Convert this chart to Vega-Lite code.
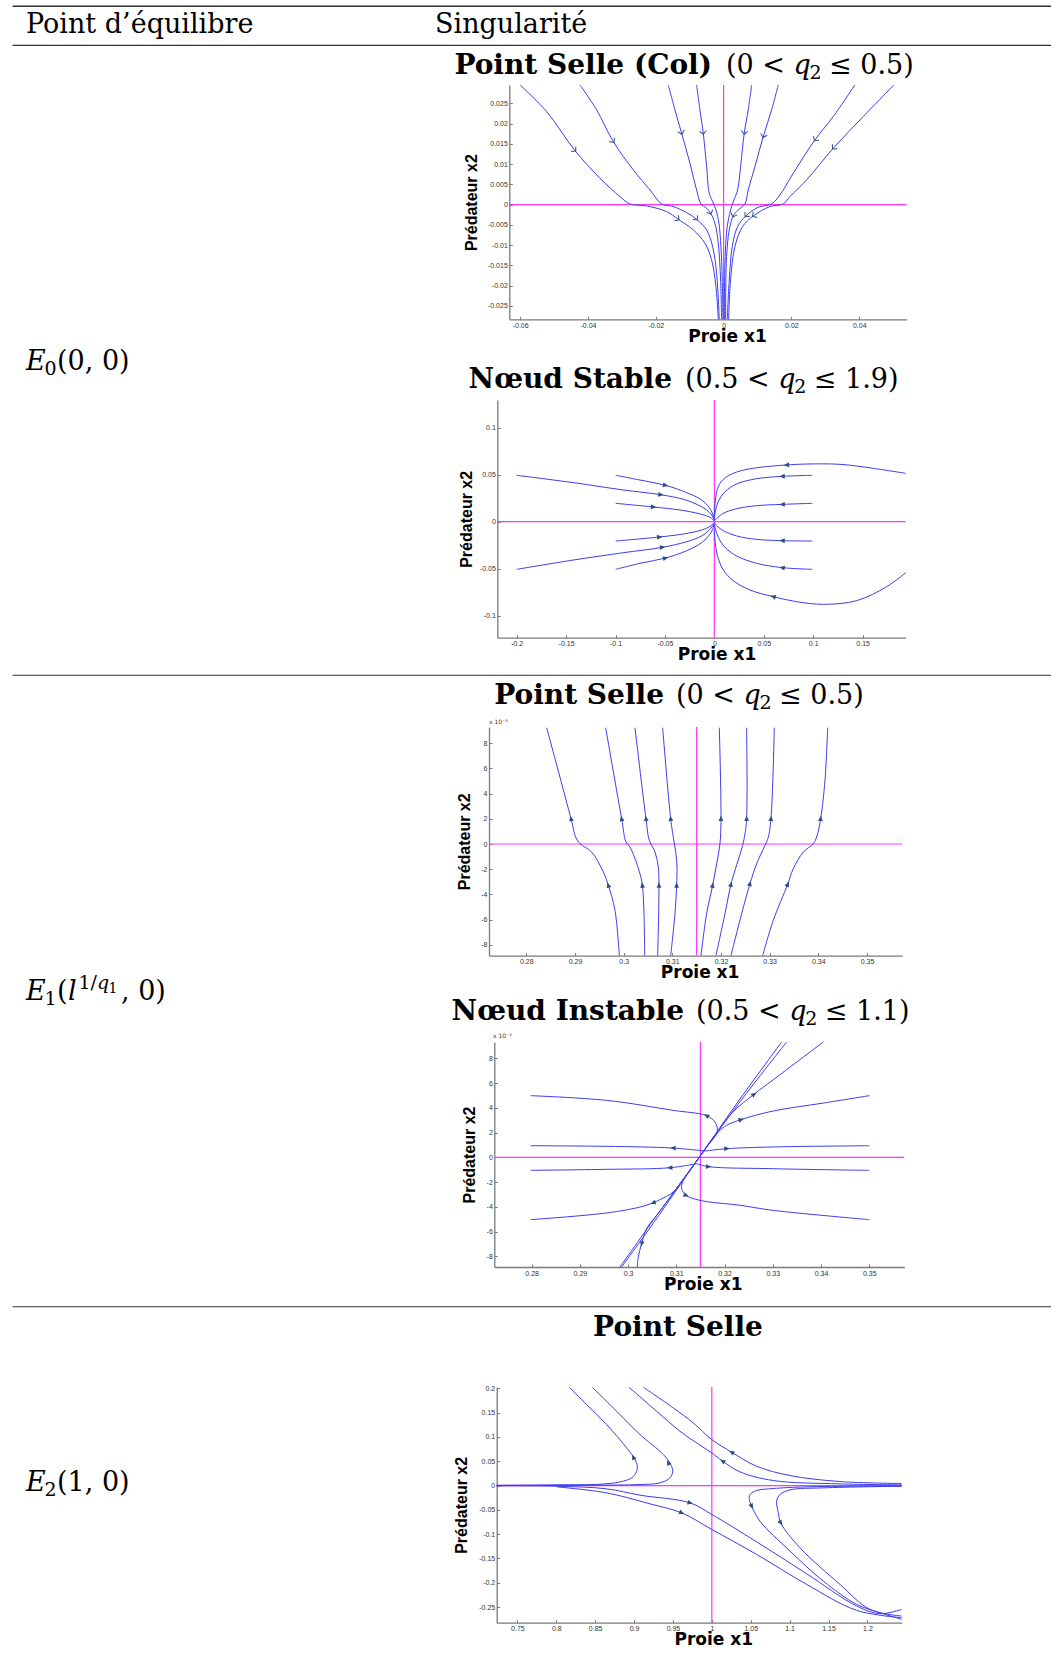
{
"$schema": "https://vega.github.io/schema/vega-lite/v6.json",
"padding": 0,
"background": "white",
"spacing": 0,
"bounds": "flush",
"config": {
  "view": {"stroke": null},
  "axis": {"grid": false, "domainColor": "#7a7a7a", "domainWidth": 1.3, "tickColor": "#7a7a7a", "tickSize": -3, "tickWidth": 1, "labelFont": "Liberation Sans", "labelFontSize": 7, "labelColor": "#333333", "labelPadding": 5, "labelFlush": false, "labelOverlap": false, "titleColor": "#000000", "titleFontWeight": "bold"},
  "axisX": {"titleFont": "DejaVu Sans", "titleFontSize": 17, "titlePadding": 0},
  "axisY": {"titleFont": "Liberation Sans", "titleFontSize": 16}
},
"datasets": {
  "p1l": [
    {"c":"A","i":0,"x":-0.06005,"y":0.02952},{"c":"A","i":1,"x":-0.05219,"y":0.02294},{"c":"A","i":2,"x":-0.04383,"y":0.01332},{"c":"A","i":3,"x":-0.03646,"y":0.0065},{"c":"A","i":4,"x":-0.03057,"y":0.00197},{"c":"A","i":5,"x":-0.02762,"y":0.00016},{"c":"A","i":6,"x":-0.0227,"y":-0.00033},{"c":"A","i":7,"x":-0.01681,"y":-0.00173},{"c":"A","i":8,"x":-0.01337,"y":-0.00362},{"c":"A","i":9,"x":-0.00894,"y":-0.00625},{"c":"A","i":10,"x":-0.0055,"y":-0.00954},{"c":"A","i":11,"x":-0.00354,"y":-0.01365},{"c":"A","i":12,"x":-0.00226,"y":-0.02023},{"c":"A","i":13,"x":-0.00157,"y":-0.02829},
    {"c":"B","i":0,"x":-0.04236,"y":0.02952},{"c":"B","i":1,"x":-0.03744,"y":0.02336},{"c":"B","i":2,"x":-0.03253,"y":0.01554},{"c":"B","i":3,"x":-0.02663,"y":0.00855},{"c":"B","i":4,"x":-0.02172,"y":0.00362},{"c":"B","i":5,"x":-0.01828,"y":0.00016},{"c":"B","i":6,"x":-0.01484,"y":-0.00049},{"c":"B","i":7,"x":-0.01091,"y":-0.00197},{"c":"B","i":8,"x":-0.00796,"y":-0.00362},{"c":"B","i":9,"x":-0.00501,"y":-0.00625},{"c":"B","i":10,"x":-0.00324,"y":-0.01036},{"c":"B","i":11,"x":-0.00206,"y":-0.01694},{"c":"B","i":12,"x":-0.00128,"y":-0.02829},
    {"c":"C","i":0,"x":-0.01631,"y":0.02952},{"c":"C","i":1,"x":-0.01435,"y":0.02336},{"c":"C","i":2,"x":-0.01238,"y":0.0176},{"c":"C","i":3,"x":-0.00993,"y":0.0102},{"c":"C","i":4,"x":-0.00796,"y":0.00362},{"c":"C","i":5,"x":-0.00668,"y":0.00016},{"c":"C","i":6,"x":-0.00501,"y":-0.0009},{"c":"C","i":7,"x":-0.00383,"y":-0.00214},{"c":"C","i":8,"x":-0.00256,"y":-0.00461},{"c":"C","i":9,"x":-0.00157,"y":-0.00954},{"c":"C","i":10,"x":-0.00088,"y":-0.01859},{"c":"C","i":11,"x":-0.00059,"y":-0.02829},
    {"c":"D","i":0,"x":-0.00796,"y":0.02952},{"c":"D","i":1,"x":-0.00698,"y":0.02336},{"c":"D","i":2,"x":-0.006,"y":0.0176},{"c":"D","i":3,"x":-0.00501,"y":0.00938},{"c":"D","i":4,"x":-0.00423,"y":0.0028},{"c":"D","i":5,"x":-0.00324,"y":0.00074},{"c":"D","i":6,"x":-0.00226,"y":-0.00132},{"c":"D","i":7,"x":-0.00138,"y":-0.00461},{"c":"D","i":8,"x":-0.00079,"y":-0.01036},{"c":"D","i":9,"x":-0.00039,"y":-0.01859},{"c":"D","i":10,"x":-0.0002,"y":-0.02829},
    {"c":"E","i":0,"x":0.00826,"y":0.02952},{"c":"E","i":1,"x":0.00727,"y":0.02336},{"c":"E","i":2,"x":0.00609,"y":0.0176},{"c":"E","i":3,"x":0.00501,"y":0.00938},{"c":"E","i":4,"x":0.00413,"y":0.00362},{"c":"E","i":5,"x":0.00305,"y":0.00115},{"c":"E","i":6,"x":0.00206,"y":-0.00132},{"c":"E","i":7,"x":0.00108,"y":-0.00543},{"c":"E","i":8,"x":0.00049,"y":-0.01201},{"c":"E","i":9,"x":0.0002,"y":-0.02829},
    {"c":"F","i":0,"x":0.01612,"y":0.02952},{"c":"F","i":1,"x":0.01415,"y":0.02336},{"c":"F","i":2,"x":0.0117,"y":0.01678},{"c":"F","i":3,"x":0.00924,"y":0.00938},{"c":"F","i":4,"x":0.00727,"y":0.00362},{"c":"F","i":5,"x":0.00629,"y":0.00016},{"c":"F","i":6,"x":0.00432,"y":-0.00132},{"c":"F","i":7,"x":0.00285,"y":-0.0028},{"c":"F","i":8,"x":0.00167,"y":-0.00625},{"c":"F","i":9,"x":0.00088,"y":-0.01283},{"c":"F","i":10,"x":0.00059,"y":-0.02829},
    {"c":"G","i":0,"x":0.03872,"y":0.02952},{"c":"G","i":1,"x":0.03233,"y":0.02171},{"c":"G","i":2,"x":0.02693,"y":0.01595},{"c":"G","i":3,"x":0.02054,"y":0.00773},{"c":"G","i":4,"x":0.01661,"y":0.00238},{"c":"G","i":5,"x":0.01415,"y":0.00016},{"c":"G","i":6,"x":0.01022,"y":-0.00066},{"c":"G","i":7,"x":0.00658,"y":-0.0028},{"c":"G","i":8,"x":0.00413,"y":-0.00543},{"c":"G","i":9,"x":0.00256,"y":-0.01036},{"c":"G","i":10,"x":0.00167,"y":-0.01859},{"c":"G","i":11,"x":0.00108,"y":-0.02829},
    {"c":"H","i":0,"x":0.05022,"y":0.02952},{"c":"H","i":1,"x":0.04118,"y":0.02171},{"c":"H","i":2,"x":0.03233,"y":0.0139},{"c":"H","i":3,"x":0.02447,"y":0.00609},{"c":"H","i":4,"x":0.01956,"y":0.00197},{"c":"H","i":5,"x":0.01759,"y":0.00016},{"c":"H","i":6,"x":0.01366,"y":-0.00049},{"c":"H","i":7,"x":0.00875,"y":-0.0028},{"c":"H","i":8,"x":0.0056,"y":-0.00543},{"c":"H","i":9,"x":0.00334,"y":-0.01036},{"c":"H","i":10,"x":0.00206,"y":-0.01859},{"c":"H","i":11,"x":0.00147,"y":-0.02829}
  ],
  "p1a": [
    {"x":-0.04383,"y":0.01332,"h":137},{"x":-0.03253,"y":0.01554,"h":146},{"x":-0.01238,"y":0.0176,"h":165},{"x":-0.006,"y":0.0176,"h":173},{"x":0.00609,"y":0.0176,"h":187},{"x":0.0117,"y":0.01678,"h":196},{"x":0.02693,"y":0.01595,"h":215},{"x":0.03233,"y":0.0139,"h":223},
    {"x":-0.01337,"y":-0.00362,"h":125},{"x":-0.00796,"y":-0.00362,"h":140},{"x":-0.00383,"y":-0.00214,"h":155},{"x":0.00285,"y":-0.0028,"h":200},{"x":0.00658,"y":-0.0028,"h":220},{"x":0.00875,"y":-0.0028,"h":235}
  ],
  "p2l": [
    {"c":"L1","i":0,"x":-0.2,"y":0.0493},{"c":"L1","i":1,"x":-0.1427,"y":0.0415},{"c":"L1","i":2,"x":-0.0921,"y":0.0337},{"c":"L1","i":3,"x":-0.0543,"y":0.0287},{"c":"L1","i":4,"x":-0.0314,"y":0.0238},{"c":"L1","i":5,"x":-0.0162,"y":0.0177},{"c":"L1","i":6,"x":-0.0078,"y":0.0124},{"c":"L1","i":7,"x":-0.0027,"y":0.0071},{"c":"L1","i":8,"x":-0.0003,"y":0.0018},
    {"c":"L2","i":0,"x":-0.0998,"y":0.0493},{"c":"L2","i":1,"x":-0.0752,"y":0.0443},{"c":"L2","i":2,"x":-0.0496,"y":0.0387},{"c":"L2","i":3,"x":-0.028,"y":0.0309},{"c":"L2","i":4,"x":-0.0128,"y":0.023},{"c":"L2","i":5,"x":-0.0051,"y":0.0149},{"c":"L2","i":6,"x":-0.0017,"y":0.0082},{"c":"L2","i":7,"x":-0.0003,"y":0.0025},
    {"c":"L3","i":0,"x":-0.0998,"y":0.0195},{"c":"L3","i":1,"x":-0.0617,"y":0.0156},{"c":"L3","i":2,"x":-0.0347,"y":0.0124},{"c":"L3","i":3,"x":-0.0145,"y":0.0082},{"c":"L3","i":4,"x":-0.0044,"y":0.0046},{"c":"L3","i":5,"x":-0.0003,"y":0.0011},
    {"c":"L4","i":0,"x":-0.0998,"y":-0.0206},{"c":"L4","i":1,"x":-0.0556,"y":-0.0163},{"c":"L4","i":2,"x":-0.0314,"y":-0.0131},{"c":"L4","i":3,"x":-0.0128,"y":-0.0089},{"c":"L4","i":4,"x":-0.0037,"y":-0.0046},{"c":"L4","i":5,"x":-0.0003,"y":-0.0011},
    {"c":"L5","i":0,"x":-0.2,"y":-0.0507},{"c":"L5","i":1,"x":-0.1427,"y":-0.0408},{"c":"L5","i":2,"x":-0.0921,"y":-0.033},{"c":"L5","i":3,"x":-0.0526,"y":-0.0273},{"c":"L5","i":4,"x":-0.028,"y":-0.0213},{"c":"L5","i":5,"x":-0.0128,"y":-0.0152},{"c":"L5","i":6,"x":-0.0051,"y":-0.0089},{"c":"L5","i":7,"x":-0.001,"y":-0.0035},
    {"c":"L6","i":0,"x":-0.0998,"y":-0.0507},{"c":"L6","i":1,"x":-0.0752,"y":-0.0443},{"c":"L6","i":2,"x":-0.0496,"y":-0.0387},{"c":"L6","i":3,"x":-0.028,"y":-0.0309},{"c":"L6","i":4,"x":-0.0128,"y":-0.0223},{"c":"L6","i":5,"x":-0.0051,"y":-0.0142},{"c":"L6","i":6,"x":-0.0017,"y":-0.0082},{"c":"L6","i":7,"x":-0.0003,"y":-0.0025},
    {"c":"R1","i":0,"x":0.1936,"y":0.0514},{"c":"R1","i":1,"x":0.1609,"y":0.0567},{"c":"R1","i":2,"x":0.1271,"y":0.061},{"c":"R1","i":3,"x":0.0934,"y":0.0613},{"c":"R1","i":4,"x":0.0732,"y":0.0603},{"c":"R1","i":5,"x":0.0462,"y":0.0578},{"c":"R1","i":6,"x":0.026,"y":0.0539},{"c":"R1","i":7,"x":0.0125,"y":0.0479},{"c":"R1","i":8,"x":0.0057,"y":0.0408},{"c":"R1","i":9,"x":0.0024,"y":0.0319},{"c":"R1","i":10,"x":0.0007,"y":0.0195},{"c":"R1","i":11,"x":0,"y":0.0053},
    {"c":"R2","i":0,"x":0.0992,"y":0.0493},{"c":"R2","i":1,"x":0.0688,"y":0.0482},{"c":"R2","i":2,"x":0.0428,"y":0.0457},{"c":"R2","i":3,"x":0.0226,"y":0.0401},{"c":"R2","i":4,"x":0.0108,"y":0.0319},{"c":"R2","i":5,"x":0.004,"y":0.0213},{"c":"R2","i":6,"x":0.001,"y":0.0106},{"c":"R2","i":7,"x":0,"y":0.0025},
    {"c":"R3","i":0,"x":0.0992,"y":0.0195},{"c":"R3","i":1,"x":0.0688,"y":0.0184},{"c":"R3","i":2,"x":0.0428,"y":0.017},{"c":"R3","i":3,"x":0.0226,"y":0.0138},{"c":"R3","i":4,"x":0.0091,"y":0.0089},{"c":"R3","i":5,"x":0.0024,"y":0.0035},{"c":"R3","i":6,"x":0,"y":0.0007},
    {"c":"R4","i":0,"x":0.0992,"y":-0.0206},{"c":"R4","i":1,"x":0.0688,"y":-0.0202},{"c":"R4","i":2,"x":0.0428,"y":-0.0188},{"c":"R4","i":3,"x":0.0226,"y":-0.0152},{"c":"R4","i":4,"x":0.0091,"y":-0.0096},{"c":"R4","i":5,"x":0.0024,"y":-0.0043},{"c":"R4","i":6,"x":0,"y":-0.0011},
    {"c":"R5","i":0,"x":0.0992,"y":-0.0507},{"c":"R5","i":1,"x":0.0688,"y":-0.0489},{"c":"R5","i":2,"x":0.0428,"y":-0.0443},{"c":"R5","i":3,"x":0.0226,"y":-0.0365},{"c":"R5","i":4,"x":0.0108,"y":-0.0273},{"c":"R5","i":5,"x":0.004,"y":-0.0167},{"c":"R5","i":6,"x":0.001,"y":-0.0071},{"c":"R5","i":7,"x":0,"y":-0.0025},
    {"c":"R6","i":0,"x":0.1936,"y":-0.0543},{"c":"R6","i":1,"x":0.1744,"y":-0.0691},{"c":"R6","i":2,"x":0.144,"y":-0.084},{"c":"R6","i":3,"x":0.1103,"y":-0.0879},{"c":"R6","i":4,"x":0.0833,"y":-0.0851},{"c":"R6","i":5,"x":0.0597,"y":-0.0798},{"c":"R6","i":6,"x":0.0361,"y":-0.0727},{"c":"R6","i":7,"x":0.0192,"y":-0.0628},{"c":"R6","i":8,"x":0.0091,"y":-0.0514},{"c":"R6","i":9,"x":0.0034,"y":-0.0372},{"c":"R6","i":10,"x":0.001,"y":-0.023},{"c":"R6","i":11,"x":0,"y":-0.0089}
  ],
  "p2a": [
    {"x":-0.0543,"y":0.0287,"h":97},{"x":-0.0496,"y":0.0387,"h":101},{"x":-0.0617,"y":0.0156,"h":96},{"x":-0.0556,"y":-0.0163,"h":84},{"x":-0.0526,"y":-0.0273,"h":81},{"x":-0.0496,"y":-0.0387,"h":77},
    {"x":0.0732,"y":0.0603,"h":265},{"x":0.0688,"y":0.0482,"h":268},{"x":0.0688,"y":0.0184,"h":268},{"x":0.0688,"y":-0.0202,"h":272},{"x":0.0688,"y":-0.0489,"h":280},{"x":0.0597,"y":-0.0798,"h":287}
  ],
  "p3l": [
    {"c":"C1","i":0,"x":0.28418,"y":0.009233},{"c":"C1","i":1,"x":0.28918,"y":0.002011},{"c":"C1","i":2,"x":0.29014,"y":0.000556},{"c":"C1","i":3,"x":0.29103,"y":0.000026},{"c":"C1","i":4,"x":0.29342,"y":-0.000635},{"c":"C1","i":5,"x":0.29582,"y":-0.002222},{"c":"C1","i":6,"x":0.29685,"y":-0.00328},{"c":"C1","i":7,"x":0.29822,"y":-0.005265},{"c":"C1","i":8,"x":0.29911,"y":-0.008862},
    {"c":"C2","i":0,"x":0.2963,"y":0.009233},{"c":"C2","i":1,"x":0.29959,"y":0.002011},{"c":"C2","i":2,"x":0.30048,"y":0.000159},{"c":"C2","i":3,"x":0.3013,"y":-0.000238},{"c":"C2","i":4,"x":0.30315,"y":-0.00209},{"c":"C2","i":5,"x":0.30384,"y":-0.00328},{"c":"C2","i":6,"x":0.30418,"y":-0.005529},{"c":"C2","i":7,"x":0.30432,"y":-0.008862},
    {"c":"C3","i":0,"x":0.30233,"y":0.009233},{"c":"C3","i":1,"x":0.30459,"y":0.002011},{"c":"C3","i":2,"x":0.30527,"y":0.000291},{"c":"C3","i":3,"x":0.30644,"y":-0.000635},{"c":"C3","i":4,"x":0.30712,"y":-0.001825},{"c":"C3","i":5,"x":0.30726,"y":-0.00328},{"c":"C3","i":6,"x":0.30699,"y":-0.008862},
    {"c":"C4","i":0,"x":0.30801,"y":0.009233},{"c":"C4","i":1,"x":0.30966,"y":0.002011},{"c":"C4","i":2,"x":0.3102,"y":0.000556},{"c":"C4","i":3,"x":0.31075,"y":-0.000767},{"c":"C4","i":4,"x":0.31096,"y":-0.001825},{"c":"C4","i":5,"x":0.31089,"y":-0.00328},{"c":"C4","i":6,"x":0.31055,"y":-0.005529},{"c":"C4","i":7,"x":0.30966,"y":-0.008862},
    {"c":"C5","i":0,"x":0.31966,"y":0.009233},{"c":"C5","i":1,"x":0.32,"y":0.002011},{"c":"C5","i":2,"x":0.31979,"y":0.000026},{"c":"C5","i":3,"x":0.31911,"y":-0.001561},{"c":"C5","i":4,"x":0.31829,"y":-0.00328},{"c":"C5","i":5,"x":0.31705,"y":-0.005529},{"c":"C5","i":6,"x":0.31589,"y":-0.008862},
    {"c":"C6","i":0,"x":0.32527,"y":0.009233},{"c":"C6","i":1,"x":0.32527,"y":0.002011},{"c":"C6","i":2,"x":0.32493,"y":0.00082},{"c":"C6","i":3,"x":0.32445,"y":-0.000106},{"c":"C6","i":4,"x":0.32288,"y":-0.00209},{"c":"C6","i":5,"x":0.32205,"y":-0.003201},{"c":"C6","i":6,"x":0.32082,"y":-0.005529},{"c":"C6","i":7,"x":0.31897,"y":-0.008862},
    {"c":"C7","i":0,"x":0.33096,"y":0.009233},{"c":"C7","i":1,"x":0.33027,"y":0.002011},{"c":"C7","i":2,"x":0.32973,"y":0.000556},{"c":"C7","i":3,"x":0.32904,"y":-0.000106},{"c":"C7","i":4,"x":0.32733,"y":-0.001561},{"c":"C7","i":5,"x":0.32596,"y":-0.003148},{"c":"C7","i":6,"x":0.32425,"y":-0.005529},{"c":"C7","i":7,"x":0.32205,"y":-0.008862},
    {"c":"C8","i":0,"x":0.34192,"y":0.009233},{"c":"C8","i":1,"x":0.34137,"y":0.005053},{"c":"C8","i":2,"x":0.34048,"y":0.002011},{"c":"C8","i":3,"x":0.33966,"y":0.000556},{"c":"C8","i":4,"x":0.33897,"y":0.000026},{"c":"C8","i":5,"x":0.33692,"y":-0.000635},{"c":"C8","i":6,"x":0.33486,"y":-0.001958},{"c":"C8","i":7,"x":0.3337,"y":-0.003201},{"c":"C8","i":8,"x":0.33075,"y":-0.006058},{"c":"C8","i":9,"x":0.32856,"y":-0.008862}
  ],
  "p3a": [
    {"x":0.28918,"y":0.002011,"h":345},{"x":0.29685,"y":-0.00328,"h":343},{"x":0.29959,"y":0.002011,"h":350},{"x":0.30384,"y":-0.00328,"h":353},{"x":0.30459,"y":0.002011,"h":353},{"x":0.30726,"y":-0.00328,"h":0},{"x":0.30966,"y":0.002011,"h":355},{"x":0.31089,"y":-0.00328,"h":0},
    {"x":0.32,"y":0.002011,"h":0},{"x":0.31829,"y":-0.00328,"h":11},{"x":0.32527,"y":0.002011,"h":0},{"x":0.32205,"y":-0.0032,"h":12},{"x":0.33027,"y":0.002011,"h":3},{"x":0.32596,"y":-0.00315,"h":15},{"x":0.34048,"y":0.002011,"h":6},{"x":0.3337,"y":-0.0032,"h":21}
  ],
  "p4l": [
    {"c":"S1","i":0,"x":0.29831,"y":-0.00887},{"c":"S1","i":1,"x":0.3063,"y":-0.0045},{"c":"S1","i":2,"x":0.31455,"y":-0.00011},{"c":"S1","i":3,"x":0.3226,"y":0.0044},{"c":"S1","i":4,"x":0.33183,"y":0.00933},
    {"c":"S2","i":0,"x":0.29866,"y":-0.00887},{"c":"S2","i":1,"x":0.30655,"y":-0.0046},{"c":"S2","i":2,"x":0.31455,"y":-0.00011},{"c":"S2","i":3,"x":0.3232,"y":0.0045},{"c":"S2","i":4,"x":0.33287,"y":0.00933},
    {"c":"S3","i":0,"x":0.31455,"y":-0.00011},{"c":"S3","i":1,"x":0.319,"y":0.0023},{"c":"S3","i":2,"x":0.3218,"y":0.0037},{"c":"S3","i":3,"x":0.3261,"y":0.0051},{"c":"S3","i":4,"x":0.3301,"y":0.00628},{"c":"S3","i":5,"x":0.34047,"y":0.00933},
    {"c":"S4","i":0,"x":0.31455,"y":-0.00011},{"c":"S4","i":1,"x":0.3063,"y":-0.0045},{"c":"S4","i":2,"x":0.30384,"y":-0.00577},{"c":"S4","i":3,"x":0.30281,"y":-0.00698},{"c":"S4","i":4,"x":0.30211,"y":-0.00806},{"c":"S4","i":5,"x":0.30191,"y":-0.00887},
    {"c":"H1","i":0,"x":0.31455,"y":-0.00011},{"c":"H1","i":1,"x":0.31628,"y":0.00084},{"c":"H1","i":2,"x":0.31836,"y":0.00191},{"c":"H1","i":3,"x":0.3185,"y":0.00232},{"c":"H1","i":4,"x":0.31801,"y":0.00286},{"c":"H1","i":5,"x":0.31628,"y":0.00337},{"c":"H1","i":6,"x":0.30937,"y":0.0038},{"c":"H1","i":7,"x":0.29555,"y":0.00461},{"c":"H1","i":8,"x":0.27979,"y":0.00499},
    {"c":"H2","i":0,"x":0.31455,"y":-0.00011},{"c":"H2","i":1,"x":0.31697,"y":0.00124},{"c":"H2","i":2,"x":0.3187,"y":0.00205},{"c":"H2","i":3,"x":0.32043,"y":0.00259},{"c":"H2","i":4,"x":0.3234,"y":0.00305},{"c":"H2","i":5,"x":0.3301,"y":0.00375},{"c":"H2","i":6,"x":0.34047,"y":0.00439},{"c":"H2","i":7,"x":0.35001,"y":0.00499},
    {"c":"H3","i":0,"x":0.31594,"y":0.00051},{"c":"H3","i":1,"x":0.30937,"y":0.00075},{"c":"H3","i":2,"x":0.29555,"y":0.00089},{"c":"H3","i":3,"x":0.27979,"y":0.00094},
    {"c":"H4","i":0,"x":0.31594,"y":0.00051},{"c":"H4","i":1,"x":0.32043,"y":0.0007},{"c":"H4","i":2,"x":0.3301,"y":0.00084},{"c":"H4","i":3,"x":0.35001,"y":0.00094},
    {"c":"H5","i":0,"x":0.31421,"y":-0.00051},{"c":"H5","i":1,"x":0.30868,"y":-0.00084},{"c":"H5","i":2,"x":0.29555,"y":-0.00097},{"c":"H5","i":3,"x":0.27979,"y":-0.00105},
    {"c":"H6","i":0,"x":0.31421,"y":-0.00051},{"c":"H6","i":1,"x":0.31663,"y":-0.00075},{"c":"H6","i":2,"x":0.3301,"y":-0.00092},{"c":"H6","i":3,"x":0.35001,"y":-0.00105},
    {"c":"H7","i":0,"x":0.31455,"y":-0.00011},{"c":"H7","i":1,"x":0.31179,"y":-0.00159},{"c":"H7","i":2,"x":0.30937,"y":-0.0028},{"c":"H7","i":3,"x":0.30661,"y":-0.00342},{"c":"H7","i":4,"x":0.30522,"y":-0.00367},{"c":"H7","i":5,"x":0.30246,"y":-0.00402},{"c":"H7","i":6,"x":0.29555,"y":-0.0045},{"c":"H7","i":7,"x":0.27979,"y":-0.00504},
    {"c":"H8","i":0,"x":0.31455,"y":-0.00011},{"c":"H8","i":1,"x":0.31283,"y":-0.00105},{"c":"H8","i":2,"x":0.31144,"y":-0.00186},{"c":"H8","i":3,"x":0.3111,"y":-0.00253},{"c":"H8","i":4,"x":0.312,"y":-0.00307},{"c":"H8","i":5,"x":0.3149,"y":-0.00348},{"c":"H8","i":6,"x":0.32319,"y":-0.00388},{"c":"H8","i":7,"x":0.3301,"y":-0.00429},{"c":"H8","i":8,"x":0.35001,"y":-0.00504}
  ],
  "p4a": [
    {"x":0.31628,"y":0.00337,"h":300},{"x":0.3234,"y":0.00305,"h":73},{"x":0.3261,"y":0.00509,"h":53},{"x":0.30937,"y":0.00075,"h":271},{"x":0.32043,"y":0.0007,"h":88},
    {"x":0.30868,"y":-0.00084,"h":268},{"x":0.31663,"y":-0.00075,"h":92},{"x":0.30522,"y":-0.00367,"h":252},{"x":0.312,"y":-0.00307,"h":110},{"x":0.30281,"y":-0.00698,"h":194}
  ],
  "p5l": [
    {"c":"P1","i":0,"x":0.7234,"y":0.0007},{"c":"P1","i":1,"x":0.8006,"y":0.0014},{"c":"P1","i":2,"x":0.8563,"y":0.0027},{"c":"P1","i":3,"x":0.882,"y":0.0075},{"c":"P1","i":4,"x":0.897,"y":0.0158},{"c":"P1","i":5,"x":0.9034,"y":0.0295},{"c":"P1","i":6,"x":0.9042,"y":0.0397},{"c":"P1","i":7,"x":0.9012,"y":0.0534},{"c":"P1","i":8,"x":0.8905,"y":0.0774},{"c":"P1","i":9,"x":0.8648,"y":0.1253},{"c":"P1","i":10,"x":0.8391,"y":0.1664},{"c":"P1","i":11,"x":0.8168,"y":0.2021},
    {"c":"P2","i":0,"x":0.7234,"y":0},{"c":"P2","i":1,"x":0.8434,"y":0.0007},{"c":"P2","i":2,"x":0.9077,"y":0.0021},{"c":"P2","i":3,"x":0.9334,"y":0.0055},{"c":"P2","i":4,"x":0.9462,"y":0.0158},{"c":"P2","i":5,"x":0.9497,"y":0.0295},{"c":"P2","i":6,"x":0.9471,"y":0.0432},{"c":"P2","i":7,"x":0.9377,"y":0.0637},{"c":"P2","i":8,"x":0.9077,"y":0.1048},{"c":"P2","i":9,"x":0.8777,"y":0.1527},{"c":"P2","i":10,"x":0.8464,"y":0.2021},
    {"c":"P3","i":0,"x":0.8935,"y":0.2021},{"c":"P3","i":1,"x":0.9291,"y":0.1527},{"c":"P3","i":2,"x":0.9591,"y":0.1116},{"c":"P3","i":3,"x":0.9848,"y":0.0829},{"c":"P3","i":4,"x":1.0,"y":0.0671},{"c":"P3","i":5,"x":1.0139,"y":0.05},{"c":"P3","i":6,"x":1.0362,"y":0.0281},{"c":"P3","i":7,"x":1.079,"y":0.0103},{"c":"P3","i":8,"x":1.1647,"y":0.0034},{"c":"P3","i":9,"x":1.244,"y":0.0014},
    {"c":"P4","i":0,"x":0.912,"y":0.2021},{"c":"P4","i":1,"x":0.9505,"y":0.1596},{"c":"P4","i":2,"x":0.9762,"y":0.1288},{"c":"P4","i":3,"x":1.0,"y":0.0945},{"c":"P4","i":4,"x":1.0255,"y":0.0685},{"c":"P4","i":5,"x":1.0576,"y":0.0397},{"c":"P4","i":6,"x":1.1005,"y":0.0205},{"c":"P4","i":7,"x":1.1647,"y":0.0082},{"c":"P4","i":8,"x":1.244,"y":0.0041},
    {"c":"P5","i":0,"x":1.244,"y":-0.0007},{"c":"P5","i":1,"x":1.1219,"y":-0.0027},{"c":"P5","i":2,"x":1.079,"y":-0.0062},{"c":"P5","i":3,"x":1.0576,"y":-0.0103},{"c":"P5","i":4,"x":1.0491,"y":-0.0185},{"c":"P5","i":5,"x":1.0482,"y":-0.0288},{"c":"P5","i":6,"x":1.0512,"y":-0.0425},{"c":"P5","i":7,"x":1.0619,"y":-0.0733},{"c":"P5","i":8,"x":1.1005,"y":-0.1349},{"c":"P5","i":9,"x":1.1433,"y":-0.1966},{"c":"P5","i":10,"x":1.1862,"y":-0.2445},{"c":"P5","i":11,"x":1.2161,"y":-0.2616},{"c":"P5","i":12,"x":1.244,"y":-0.2753},
    {"c":"P6","i":0,"x":1.244,"y":-0.0014},{"c":"P6","i":1,"x":1.1433,"y":-0.0048},{"c":"P6","i":2,"x":1.1005,"y":-0.0089},{"c":"P6","i":3,"x":1.0876,"y":-0.0185},{"c":"P6","i":4,"x":1.0833,"y":-0.0322},{"c":"P6","i":5,"x":1.0855,"y":-0.0562},{"c":"P6","i":6,"x":1.0885,"y":-0.0767},{"c":"P6","i":7,"x":1.1133,"y":-0.1281},{"c":"P6","i":8,"x":1.1647,"y":-0.2034},{"c":"P6","i":9,"x":1.2033,"y":-0.2548},{"c":"P6","i":10,"x":1.244,"y":-0.2685},
    {"c":"P7","i":0,"x":0.7234,"y":-0.0007},{"c":"P7","i":1,"x":0.8006,"y":-0.0014},{"c":"P7","i":2,"x":0.8648,"y":-0.0068},{"c":"P7","i":3,"x":0.9077,"y":-0.0199},{"c":"P7","i":4,"x":0.9719,"y":-0.0356},{"c":"P7","i":5,"x":1.0,"y":-0.0596},{"c":"P7","i":6,"x":1.0576,"y":-0.1158},{"c":"P7","i":7,"x":1.1219,"y":-0.1815},{"c":"P7","i":8,"x":1.1862,"y":-0.2479},{"c":"P7","i":9,"x":1.2161,"y":-0.2637},{"c":"P7","i":10,"x":1.244,"y":-0.2548},
    {"c":"P8","i":0,"x":0.8006,"y":-0.0027},{"c":"P8","i":1,"x":0.8648,"y":-0.0151},{"c":"P8","i":2,"x":0.9205,"y":-0.0377},{"c":"P8","i":3,"x":0.9612,"y":-0.0562},{"c":"P8","i":4,"x":1.0,"y":-0.0904},{"c":"P8","i":5,"x":1.0576,"y":-0.1418},{"c":"P8","i":6,"x":1.1219,"y":-0.2034},{"c":"P8","i":7,"x":1.1862,"y":-0.2568},{"c":"P8","i":8,"x":1.244,"y":-0.2719}
  ],
  "p5a": [
    {"x":0.8991,"y":0.0582,"h":335},{"x":0.9441,"y":0.0466,"h":333},{"x":1.0255,"y":0.0685,"h":301},{"x":1.0139,"y":0.05,"h":303},
    {"x":1.0512,"y":-0.0425,"h":155},{"x":1.0885,"y":-0.0767,"h":148},{"x":0.9719,"y":-0.0356,"h":105},{"x":0.9612,"y":-0.0562,"h":113}
  ]
},
"vconcat": [
  {
    "width": 1051, "height": 85,
    "layer": [
      {"data": {"values": [{"rule": "top"}]}, "mark": {"type": "rule", "color": "#333333", "strokeWidth": 1.6}, "encoding": {"x": {"value": 12.6}, "x2": {"value": 1051}, "y": {"value": 6.3}}},
      {"data": {"values": [{"rule": "mid"}]}, "mark": {"type": "rule", "color": "#333333", "strokeWidth": 1.1}, "encoding": {"x": {"value": 12.6}, "x2": {"value": 1051}, "y": {"value": 45.4}}},
      {"data": {"values": [{"t": "Point d’équilibre"}]}, "mark": {"type": "text", "font": "DejaVu Serif", "fontSize": 27, "align": "left", "baseline": "alphabetic", "color": "#000"}, "encoding": {"x": {"value": 26}, "y": {"value": 33}, "text": {"field": "t"}}},
      {"data": {"values": [{"t": "Singularité"}]}, "mark": {"type": "text", "font": "DejaVu Serif", "fontSize": 27, "align": "left", "baseline": "alphabetic", "color": "#000"}, "encoding": {"x": {"value": 435}, "y": {"value": 33}, "text": {"field": "t"}}}
    ]
  },
  {
    "width": 1051, "height": 315,
    "encoding": {
      "x": {"field": "x", "type": "quantitative", "scale": {"domain": [-0.0632, 0.054], "range": [509.3, 906.7], "nice": false, "zero": false}, "axis": {"title": "Proie x1", "titleX": 727, "values": [-0.06, -0.04, -0.02, 0, 0.02, 0.04], "offset": -80.7, "labelExpr": "replace(format(datum.value,'~g'),'\u2212','-')"}},
      "y": {"field": "y", "type": "quantitative", "scale": {"domain": [-0.0283, 0.0295], "range": [234.3, 0], "nice": false, "zero": false}, "axis": {"title": "Prédateur x2", "values": [-0.025, -0.02, -0.015, -0.01, -0.005, 0, 0.005, 0.01, 0.015, 0.02, 0.025], "offset": -509.3, "titlePadding": 7.6, "labelExpr": "replace(format(datum.value,'~g'),'\u2212','-')"}}
    },
    "layer": [
      {"data": {"values": [{"x": 0, "y": -0.0283, "y2": 0.0295}]}, "mark": {"type": "rule", "color": "#ff33ff", "strokeWidth": 1.2}, "encoding": {"y2": {"field": "y2"}}},
      {"data": {"values": [{"x": -0.0632, "x2": 0.054, "y": 0}]}, "mark": {"type": "rule", "color": "#ff33ff", "strokeWidth": 1.2}, "encoding": {"x2": {"field": "x2"}}},
      {"data": {"name": "p1l"}, "mark": {"type": "line", "color": "#3c3cf0", "strokeWidth": 1, "interpolate": "catmull-rom"}, "encoding": {"detail": {"field": "c", "type": "nominal"}, "order": {"field": "i", "type": "quantitative"}}},
      {"data": {"name": "p1a"}, "mark": {"type": "point", "shape": "M -1 0.7 L 0 -0.3 L 1 0.7", "filled": false, "color": "#2c4f7c", "strokeWidth": 1, "size": 45, "opacity": 1}, "encoding": {"angle": {"field": "h", "type": "quantitative", "scale": null}}},
      {"data": {"values": [{"t": "E"}]}, "mark": {"type": "text", "font": "DejaVu Serif", "fontStyle": "italic", "fontSize": 27, "align": "left", "baseline": "alphabetic", "color": "#000"}, "encoding": {"x": {"value": 26}, "y": {"value": 285}, "text": {"field": "t"}}},
      {"data": {"values": [{"t": "0"}]}, "mark": {"type": "text", "font": "DejaVu Serif", "fontSize": 19, "align": "left", "baseline": "alphabetic", "color": "#000"}, "encoding": {"x": {"value": 44.5}, "y": {"value": 290}, "text": {"field": "t"}}},
      {"data": {"values": [{"t": "(0, 0)"}]}, "mark": {"type": "text", "font": "DejaVu Serif", "fontSize": 27, "align": "left", "baseline": "alphabetic", "color": "#000"}, "encoding": {"x": {"value": 57}, "y": {"value": 285}, "text": {"field": "t"}}},
      {"data": {"values": [{"t": "Point Selle (Col)"}]}, "mark": {"type": "text", "font": "DejaVu Serif", "fontWeight": "bold", "fontSize": 28, "align": "right", "baseline": "alphabetic", "color": "#000"}, "encoding": {"x": {"value": 712}, "y": {"value": -10.9}, "text": {"field": "t"}}},
      {"data": {"values": [{"t": "(0 <"}]}, "mark": {"type": "text", "font": "DejaVu Serif", "fontSize": 27, "align": "left", "baseline": "alphabetic", "color": "#000"}, "encoding": {"x": {"value": 726}, "y": {"value": -10.9}, "text": {"field": "t"}}},
      {"data": {"values": [{"t": "q"}]}, "mark": {"type": "text", "font": "DejaVu Serif", "fontStyle": "italic", "fontSize": 27, "align": "left", "baseline": "alphabetic", "color": "#000"}, "encoding": {"x": {"value": 793.5}, "y": {"value": -10.9}, "text": {"field": "t"}}},
      {"data": {"values": [{"t": "2"}]}, "mark": {"type": "text", "font": "DejaVu Serif", "fontSize": 19, "align": "left", "baseline": "alphabetic", "color": "#000"}, "encoding": {"x": {"value": 809.5}, "y": {"value": -5.9}, "text": {"field": "t"}}},
      {"data": {"values": [{"t": "≤ 0.5)"}]}, "mark": {"type": "text", "font": "DejaVu Serif", "fontSize": 27, "align": "left", "baseline": "alphabetic", "color": "#000"}, "encoding": {"x": {"value": 829}, "y": {"value": -10.9}, "text": {"field": "t"}}}
    ]
  },
  {
    "width": 1051, "height": 326.7,
    "encoding": {
      "x": {"field": "x", "type": "quantitative", "scale": {"domain": [-0.2196, 0.1936], "range": [497.3, 905.7], "nice": false, "zero": false}, "axis": {"title": "Proie x1", "titleX": 716.5, "values": [-0.2, -0.15, -0.1, -0.05, 0, 0.05, 0.1, 0.15], "offset": -89, "labelExpr": "replace(format(datum.value,'~g'),'\u2212','-')"}},
      "y": {"field": "y", "type": "quantitative", "scale": {"domain": [-0.1234, 0.1294], "range": [237.7, 0], "nice": false, "zero": false}, "axis": {"title": "Prédateur x2", "values": [-0.1, -0.05, 0, 0.05, 0.1], "offset": -497.3, "titlePadding": 5, "labelExpr": "replace(format(datum.value,'~g'),'\u2212','-')"}}
    },
    "layer": [
      {"data": {"values": [{"x": 0, "y": -0.1234, "y2": 0.1294}]}, "mark": {"type": "rule", "color": "#ff33ff", "strokeWidth": 1.2}, "encoding": {"y2": {"field": "y2"}}},
      {"data": {"values": [{"x": -0.2196, "x2": 0.1936, "y": 0}]}, "mark": {"type": "rule", "color": "#ff33ff", "strokeWidth": 1.2}, "encoding": {"x2": {"field": "x2"}}},
      {"data": {"name": "p2l"}, "mark": {"type": "line", "color": "#3c3cf0", "strokeWidth": 1, "interpolate": "catmull-rom"}, "encoding": {"detail": {"field": "c", "type": "nominal"}, "order": {"field": "i", "type": "quantitative"}}},
      {"data": {"name": "p2a"}, "mark": {"type": "point", "shape": "M 0 -1 L 0.8 0.8 L -0.8 0.8 Z", "filled": true, "color": "#2c4f7c", "size": 36, "opacity": 1}, "encoding": {"angle": {"field": "h", "type": "quantitative", "scale": null}}},
      {"data": {"values": [{"rule": "mid"}]}, "mark": {"type": "rule", "color": "#333333", "strokeWidth": 1.1}, "encoding": {"x": {"value": 12.6}, "x2": {"value": 1051}, "y": {"value": 275.3}}},
      {"data": {"values": [{"t": "Nœud Stable"}]}, "mark": {"type": "text", "font": "DejaVu Serif", "fontWeight": "bold", "fontSize": 28, "align": "right", "baseline": "alphabetic", "color": "#000"}, "encoding": {"x": {"value": 672}, "y": {"value": -11.7}, "text": {"field": "t"}}},
      {"data": {"values": [{"t": "(0.5 <"}]}, "mark": {"type": "text", "font": "DejaVu Serif", "fontSize": 27, "align": "left", "baseline": "alphabetic", "color": "#000"}, "encoding": {"x": {"value": 685}, "y": {"value": -11.7}, "text": {"field": "t"}}},
      {"data": {"values": [{"t": "q"}]}, "mark": {"type": "text", "font": "DejaVu Serif", "fontStyle": "italic", "fontSize": 27, "align": "left", "baseline": "alphabetic", "color": "#000"}, "encoding": {"x": {"value": 778.3}, "y": {"value": -11.7}, "text": {"field": "t"}}},
      {"data": {"values": [{"t": "2"}]}, "mark": {"type": "text", "font": "DejaVu Serif", "fontSize": 19, "align": "left", "baseline": "alphabetic", "color": "#000"}, "encoding": {"x": {"value": 794.3}, "y": {"value": -6.7}, "text": {"field": "t"}}},
      {"data": {"values": [{"t": "≤ 1.9)"}]}, "mark": {"type": "text", "font": "DejaVu Serif", "fontSize": 27, "align": "left", "baseline": "alphabetic", "color": "#000"}, "encoding": {"x": {"value": 813.8}, "y": {"value": -11.7}, "text": {"field": "t"}}}
    ]
  },
  {
    "width": 1051, "height": 315,
    "encoding": {
      "x": {"field": "x", "type": "quantitative", "scale": {"domain": [0.27233, 0.35726], "range": [489, 902.3], "nice": false, "zero": false}, "axis": {"title": "Proie x1", "titleX": 699.6, "values": [0.28, 0.29, 0.3, 0.31, 0.32, 0.33, 0.34, 0.35], "offset": -86.4, "labelExpr": "replace(format(datum.value,'~g'),'\u2212','-')"}},
      "y": {"field": "y", "type": "quantitative", "scale": {"domain": [-0.00886, 0.00929], "range": [228.6, 0], "nice": false, "zero": false}, "axis": {"title": "Prédateur x2", "values": [-0.008, -0.006, -0.004, -0.002, 0, 0.002, 0.004, 0.006, 0.008], "offset": -489, "titlePadding": 7.8, "labelExpr": "replace(format(datum.value*1000,'~g'),'\u2212','-')"}}
    },
    "layer": [
      {"data": {"values": [{"x": 0.315, "y": -0.00886, "y2": 0.00929}]}, "mark": {"type": "rule", "color": "#ff33ff", "strokeWidth": 1.2}, "encoding": {"y2": {"field": "y2"}}},
      {"data": {"values": [{"x": 0.27233, "x2": 0.35726, "y": 0}]}, "mark": {"type": "rule", "color": "#ff33ff", "strokeWidth": 1.2}, "encoding": {"x2": {"field": "x2"}}},
      {"data": {"name": "p3l"}, "mark": {"type": "line", "color": "#3c3cf0", "strokeWidth": 1, "interpolate": "catmull-rom"}, "encoding": {"detail": {"field": "c", "type": "nominal"}, "order": {"field": "i", "type": "quantitative"}}},
      {"data": {"name": "p3a"}, "mark": {"type": "point", "shape": "M 0 -1 L 0.8 0.8 L -0.8 0.8 Z", "filled": true, "color": "#2c4f7c", "size": 36, "opacity": 1}, "encoding": {"angle": {"field": "h", "type": "quantitative", "scale": null}}},
      {"data": {"values": [{"t": "x 10⁻³"}]}, "mark": {"type": "text", "font": "DejaVu Sans", "fontSize": 6, "align": "left", "baseline": "alphabetic", "color": "#333333"}, "encoding": {"x": {"value": 489}, "y": {"value": -3}, "text": {"field": "t"}}},
      {"data": {"values": [{"t": "E"}]}, "mark": {"type": "text", "font": "DejaVu Serif", "fontStyle": "italic", "fontSize": 27, "align": "left", "baseline": "alphabetic", "color": "#000"}, "encoding": {"x": {"value": 26}, "y": {"value": 273.3}, "text": {"field": "t"}}},
      {"data": {"values": [{"t": "1"}]}, "mark": {"type": "text", "font": "DejaVu Serif", "fontSize": 19, "align": "left", "baseline": "alphabetic", "color": "#000"}, "encoding": {"x": {"value": 44.5}, "y": {"value": 278.3}, "text": {"field": "t"}}},
      {"data": {"values": [{"t": "("}]}, "mark": {"type": "text", "font": "DejaVu Serif", "fontSize": 27, "align": "left", "baseline": "alphabetic", "color": "#000"}, "encoding": {"x": {"value": 57}, "y": {"value": 273.3}, "text": {"field": "t"}}},
      {"data": {"values": [{"t": "l"}]}, "mark": {"type": "text", "font": "DejaVu Serif", "fontStyle": "italic", "fontSize": 27, "align": "left", "baseline": "alphabetic", "color": "#000"}, "encoding": {"x": {"value": 68}, "y": {"value": 273.3}, "text": {"field": "t"}}},
      {"data": {"values": [{"t": "1/"}]}, "mark": {"type": "text", "font": "DejaVu Serif", "fontSize": 19, "align": "left", "baseline": "alphabetic", "color": "#000"}, "encoding": {"x": {"value": 78.5}, "y": {"value": 262.3}, "text": {"field": "t"}}},
      {"data": {"values": [{"t": "q"}]}, "mark": {"type": "text", "font": "DejaVu Serif", "fontStyle": "italic", "fontSize": 19, "align": "left", "baseline": "alphabetic", "color": "#000"}, "encoding": {"x": {"value": 97}, "y": {"value": 262.3}, "text": {"field": "t"}}},
      {"data": {"values": [{"t": "1"}]}, "mark": {"type": "text", "font": "DejaVu Serif", "fontSize": 14, "align": "left", "baseline": "alphabetic", "color": "#000"}, "encoding": {"x": {"value": 108.5}, "y": {"value": 266.3}, "text": {"field": "t"}}},
      {"data": {"values": [{"t": ", 0)"}]}, "mark": {"type": "text", "font": "DejaVu Serif", "fontSize": 27, "align": "left", "baseline": "alphabetic", "color": "#000"}, "encoding": {"x": {"value": 121}, "y": {"value": 273.3}, "text": {"field": "t"}}},
      {"data": {"values": [{"t": "Point Selle"}]}, "mark": {"type": "text", "font": "DejaVu Serif", "fontWeight": "bold", "fontSize": 28, "align": "right", "baseline": "alphabetic", "color": "#000"}, "encoding": {"x": {"value": 664}, "y": {"value": -22.7}, "text": {"field": "t"}}},
      {"data": {"values": [{"t": "(0 <"}]}, "mark": {"type": "text", "font": "DejaVu Serif", "fontSize": 27, "align": "left", "baseline": "alphabetic", "color": "#000"}, "encoding": {"x": {"value": 676}, "y": {"value": -22.7}, "text": {"field": "t"}}},
      {"data": {"values": [{"t": "q"}]}, "mark": {"type": "text", "font": "DejaVu Serif", "fontStyle": "italic", "fontSize": 27, "align": "left", "baseline": "alphabetic", "color": "#000"}, "encoding": {"x": {"value": 743.5}, "y": {"value": -22.7}, "text": {"field": "t"}}},
      {"data": {"values": [{"t": "2"}]}, "mark": {"type": "text", "font": "DejaVu Serif", "fontSize": 19, "align": "left", "baseline": "alphabetic", "color": "#000"}, "encoding": {"x": {"value": 759.5}, "y": {"value": -17.7}, "text": {"field": "t"}}},
      {"data": {"values": [{"t": "≤ 0.5)"}]}, "mark": {"type": "text", "font": "DejaVu Serif", "fontSize": 27, "align": "left", "baseline": "alphabetic", "color": "#000"}, "encoding": {"x": {"value": 779}, "y": {"value": -22.7}, "text": {"field": "t"}}}
    ]
  },
  {
    "width": 1051, "height": 344.3,
    "encoding": {
      "x": {"field": "x", "type": "quantitative", "scale": {"domain": [0.27226, 0.35726], "range": [494.3, 904.3], "nice": false, "zero": false}, "axis": {"title": "Proie x1", "titleX": 702.8, "values": [0.28, 0.29, 0.3, 0.31, 0.32, 0.33, 0.34, 0.35], "offset": -119.3, "labelExpr": "replace(format(datum.value,'~g'),'\u2212','-')"}},
      "y": {"field": "y", "type": "quantitative", "scale": {"domain": [-0.00887, 0.00933], "range": [225, 0], "nice": false, "zero": false}, "axis": {"title": "Prédateur x2", "values": [-0.008, -0.006, -0.004, -0.002, 0, 0.002, 0.004, 0.006, 0.008], "offset": -494.3, "titlePadding": 8.5, "labelExpr": "replace(format(datum.value*1000,'~g'),'\u2212','-')"}}
    },
    "layer": [
      {"data": {"values": [{"x": 0.315, "y": -0.00887, "y2": 0.00933}]}, "mark": {"type": "rule", "color": "#ff33ff", "strokeWidth": 1.2}, "encoding": {"y2": {"field": "y2"}}},
      {"data": {"values": [{"x": 0.27226, "x2": 0.35726, "y": 0}]}, "mark": {"type": "rule", "color": "#ff33ff", "strokeWidth": 1.2}, "encoding": {"x2": {"field": "x2"}}},
      {"data": {"name": "p4l"}, "mark": {"type": "line", "color": "#3c3cf0", "strokeWidth": 1, "interpolate": "catmull-rom"}, "encoding": {"detail": {"field": "c", "type": "nominal"}, "order": {"field": "i", "type": "quantitative"}}},
      {"data": {"name": "p4a"}, "mark": {"type": "point", "shape": "M 0 -1 L 0.8 0.8 L -0.8 0.8 Z", "filled": true, "color": "#2c4f7c", "size": 36, "opacity": 1}, "encoding": {"angle": {"field": "h", "type": "quantitative", "scale": null}}},
      {"data": {"values": [{"t": "x 10⁻³"}]}, "mark": {"type": "text", "font": "DejaVu Sans", "fontSize": 6, "align": "left", "baseline": "alphabetic", "color": "#333333"}, "encoding": {"x": {"value": 493}, "y": {"value": -4.5}, "text": {"field": "t"}}},
      {"data": {"values": [{"rule": "mid"}]}, "mark": {"type": "rule", "color": "#333333", "strokeWidth": 1.1}, "encoding": {"x": {"value": 12.6}, "x2": {"value": 1051}, "y": {"value": 264.8}}},
      {"data": {"values": [{"t": "Nœud Instable"}]}, "mark": {"type": "text", "font": "DejaVu Serif", "fontWeight": "bold", "fontSize": 28, "align": "right", "baseline": "alphabetic", "color": "#000"}, "encoding": {"x": {"value": 684}, "y": {"value": -22.4}, "text": {"field": "t"}}},
      {"data": {"values": [{"t": "(0.5 <"}]}, "mark": {"type": "text", "font": "DejaVu Serif", "fontSize": 27, "align": "left", "baseline": "alphabetic", "color": "#000"}, "encoding": {"x": {"value": 696}, "y": {"value": -22.4}, "text": {"field": "t"}}},
      {"data": {"values": [{"t": "q"}]}, "mark": {"type": "text", "font": "DejaVu Serif", "fontStyle": "italic", "fontSize": 27, "align": "left", "baseline": "alphabetic", "color": "#000"}, "encoding": {"x": {"value": 789.3}, "y": {"value": -22.4}, "text": {"field": "t"}}},
      {"data": {"values": [{"t": "2"}]}, "mark": {"type": "text", "font": "DejaVu Serif", "fontSize": 19, "align": "left", "baseline": "alphabetic", "color": "#000"}, "encoding": {"x": {"value": 805.3}, "y": {"value": -17.4}, "text": {"field": "t"}}},
      {"data": {"values": [{"t": "≤ 1.1)"}]}, "mark": {"type": "text", "font": "DejaVu Serif", "fontSize": 27, "align": "left", "baseline": "alphabetic", "color": "#000"}, "encoding": {"x": {"value": 824.8}, "y": {"value": -22.4}, "text": {"field": "t"}}}
    ]
  },
  {
    "width": 1051, "height": 235.7,
    "encoding": {
      "x": {"field": "x", "type": "quantitative", "scale": {"domain": [0.7234, 1.2441], "range": [496.7, 901.7], "nice": false, "zero": false}, "axis": {"title": "Proie x1", "titleX": 713.3, "values": [0.75, 0.8, 0.85, 0.9, 0.95, 1, 1.05, 1.1, 1.15, 1.2], "offset": 0, "labelExpr": "replace(format(datum.value,'~g'),'\u2212','-')"}},
      "y": {"field": "y", "type": "quantitative", "scale": {"domain": [-0.2822, 0.2027], "range": [235.7, 0], "nice": false, "zero": false}, "axis": {"title": "Prédateur x2", "values": [-0.25, -0.2, -0.15, -0.1, -0.05, 0, 0.05, 0.1, 0.15, 0.2], "offset": -496.7, "titlePadding": 9.6, "labelExpr": "replace(format(datum.value,'~g'),'\u2212','-')"}}
    },
    "layer": [
      {"data": {"values": [{"x": 1, "y": -0.2822, "y2": 0.2027}]}, "mark": {"type": "rule", "color": "#ff33ff", "strokeWidth": 1.2}, "encoding": {"y2": {"field": "y2"}}},
      {"data": {"values": [{"x": 0.7234, "x2": 1.2441, "y": 0}]}, "mark": {"type": "rule", "color": "#ff33ff", "strokeWidth": 1.2}, "encoding": {"x2": {"field": "x2"}}},
      {"data": {"name": "p5l"}, "mark": {"type": "line", "color": "#3c3cf0", "strokeWidth": 1, "interpolate": "catmull-rom"}, "encoding": {"detail": {"field": "c", "type": "nominal"}, "order": {"field": "i", "type": "quantitative"}}},
      {"data": {"name": "p5a"}, "mark": {"type": "point", "shape": "M 0 -1 L 0.8 0.8 L -0.8 0.8 Z", "filled": true, "color": "#2c4f7c", "size": 36, "opacity": 1}, "encoding": {"angle": {"field": "h", "type": "quantitative", "scale": null}}},
      {"data": {"values": [{"t": "E"}]}, "mark": {"type": "text", "font": "DejaVu Serif", "fontStyle": "italic", "fontSize": 27, "align": "left", "baseline": "alphabetic", "color": "#000"}, "encoding": {"x": {"value": 26}, "y": {"value": 104}, "text": {"field": "t"}}},
      {"data": {"values": [{"t": "2"}]}, "mark": {"type": "text", "font": "DejaVu Serif", "fontSize": 19, "align": "left", "baseline": "alphabetic", "color": "#000"}, "encoding": {"x": {"value": 44.5}, "y": {"value": 109}, "text": {"field": "t"}}},
      {"data": {"values": [{"t": "(1, 0)"}]}, "mark": {"type": "text", "font": "DejaVu Serif", "fontSize": 27, "align": "left", "baseline": "alphabetic", "color": "#000"}, "encoding": {"x": {"value": 57}, "y": {"value": 104}, "text": {"field": "t"}}},
      {"data": {"values": [{"t": "Point Selle"}]}, "mark": {"type": "text", "font": "DejaVu Serif", "fontWeight": "bold", "fontSize": 28, "align": "center", "baseline": "alphabetic", "color": "#000"}, "encoding": {"x": {"value": 678}, "y": {"value": -51}, "text": {"field": "t"}}}
    ]
  }
]
}
